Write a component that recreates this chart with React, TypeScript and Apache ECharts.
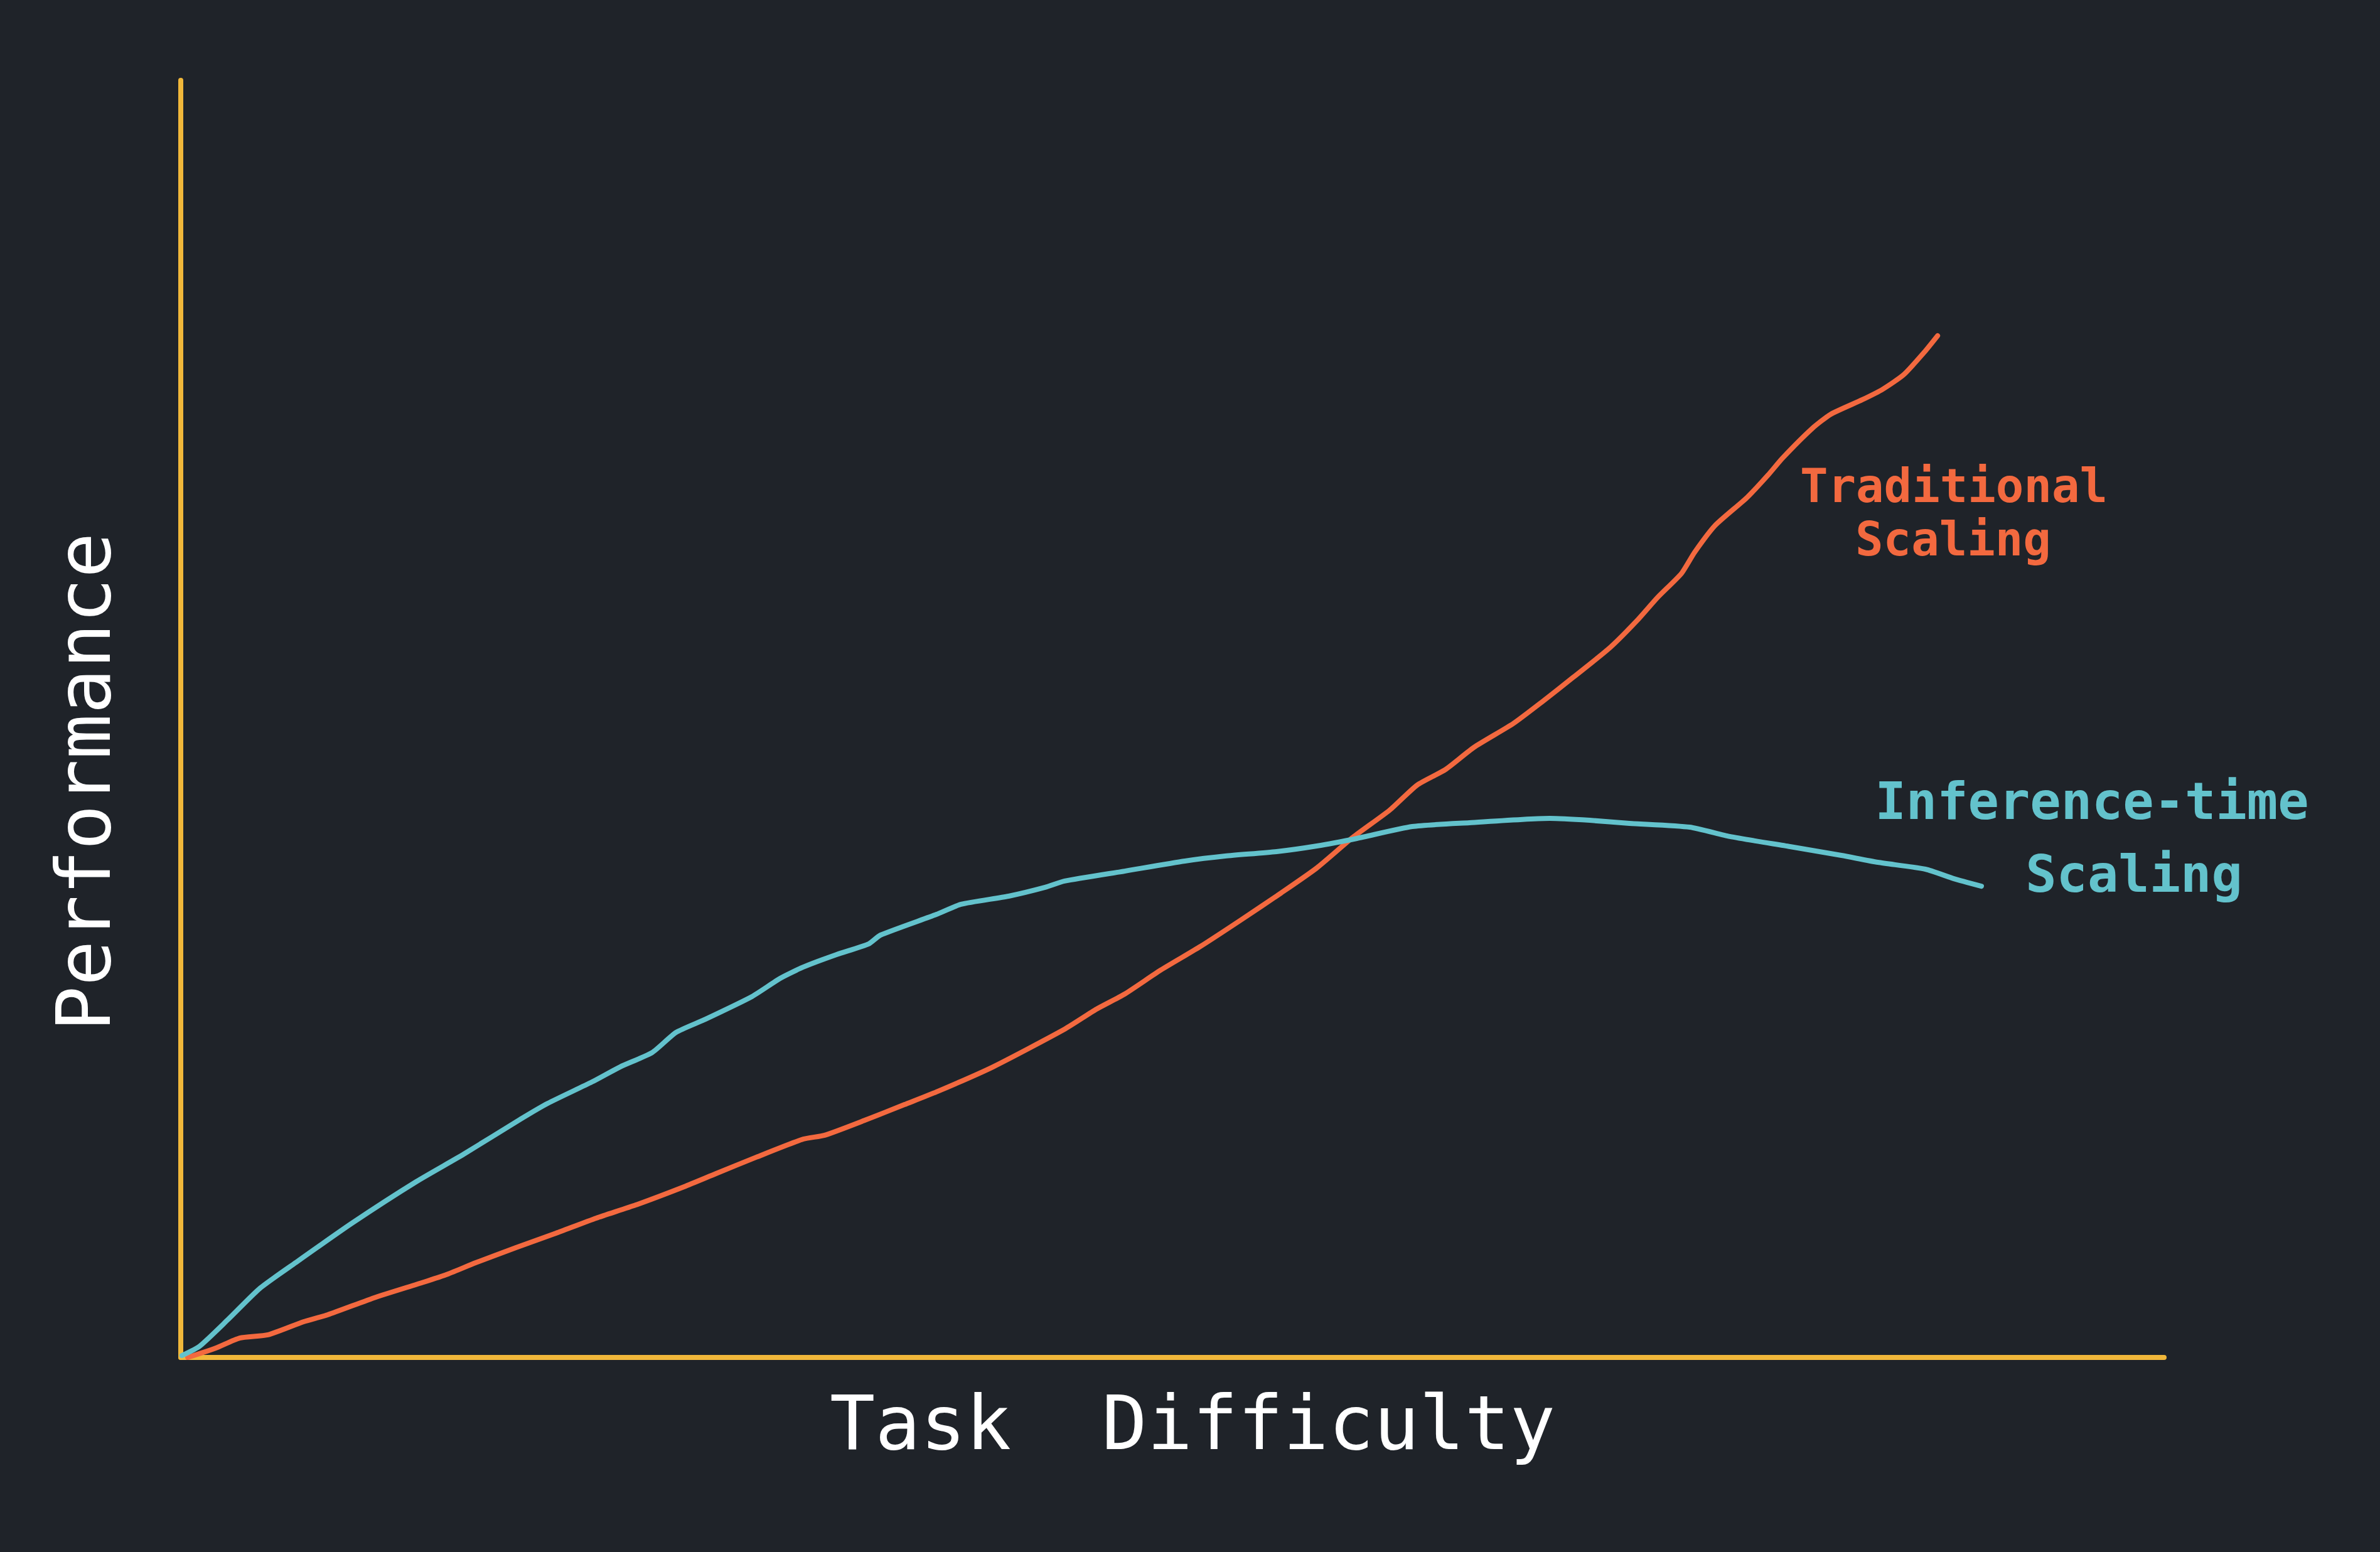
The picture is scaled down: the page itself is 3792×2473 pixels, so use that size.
import React, { useEffect, useRef } from "react";
import * as echarts from "echarts";

// Task difficulty (x) vs performance (y), arbitrary 0–100 units
const traditionalX = [0.35, 1.77, 2.97, 4.4, 6.2, 7.41, 9.84, 12.25, 13.48, 14.87, 16.9, 18.92, 20.95, 22.94, 25.38, 26.99, 29.02, 31.39, 32.47, 34.49, 36.49, 38.1, 40.95, 44.56, 46.17, 47.59, 49.4, 51.42, 53.45, 55.47, 57.28, 59.11, 60.95, 62.34, 63.77, 65.19, 67.18, 68.61, 70.22, 72.06, 73.45, 74.46, 75.66, 76.33, 77.37, 78.96, 80.03, 80.76, 82.25, 83.2, 84.78, 85.82, 86.87, 87.94, 88.58];
const traditionalY = [0, 0.74, 1.52, 1.77, 2.8, 3.34, 4.72, 5.9, 6.54, 7.42, 8.6, 9.73, 10.91, 11.94, 13.37, 14.4, 15.68, 17.1, 17.4, 18.57, 19.8, 20.79, 22.75, 25.7, 27.27, 28.45, 30.32, 32.19, 34.25, 36.36, 38.33, 40.74, 42.85, 44.82, 46.04, 47.76, 49.63, 51.3, 53.27, 55.58, 57.74, 59.51, 61.38, 63.05, 65.16, 67.32, 69.09, 70.42, 72.73, 73.86, 74.99, 75.82, 76.95, 78.77, 80.0];

const inferenceX = [0.06, 0.95, 2.37, 3.99, 5.79, 8.64, 11.87, 14.27, 17.09, 18.51, 20.73, 22.15, 23.77, 24.97, 26.39, 28.8, 30.22, 31.39, 33.07, 34.68, 35.28, 38.1, 39.34, 41.74, 43.58, 44.56, 47.59, 50.63, 52.66, 55.25, 57.28, 59.3, 62.09, 64.97, 69.02, 71.04, 73.04, 76.08, 78.1, 81.14, 83.73, 85.57, 87.97, 89.4, 90.79];
const inferenceY = [0.15, 0.88, 2.95, 5.41, 7.42, 10.52, 13.76, 15.92, 18.62, 19.9, 21.57, 22.75, 23.88, 25.45, 26.44, 28.26, 29.68, 30.57, 31.55, 32.38, 33.07, 34.69, 35.48, 36.12, 36.81, 37.3, 38.08, 38.87, 39.26, 39.61, 40.05, 40.64, 41.57, 41.87, 42.21, 42.06, 41.82, 41.52, 40.79, 40.0, 39.31, 38.77, 38.23, 37.49, 36.9];

const xAxisTitle = "Task  Difficulty";
const yAxisTitle = "Performance";
const traditionalLabel = ["Traditional", "Scaling"];
const inferenceLabel = ["Inference-time", "Scaling"];

const BG = "#1f2329";
const AXIS = "#f0b73a";
const ORANGE = "#f3693f";
const CYAN = "#63c2cc";
const FONT = "'DejaVu Sans Mono', 'Liberation Mono', monospace";

export default function App() {
  const ref = useRef<HTMLDivElement>(null);
  useEffect(() => {
    if (!ref.current) return;
    const chart = echarts.init(ref.current, null, { renderer: "svg" });
    const pair = (xs: number[], ys: number[]) => xs.map((x, i) => [x, ys[i]]);
    const axisCommon = {
      type: "value" as const,
      min: 0,
      max: 100,
      axisLine: { show: true, lineStyle: { color: AXIS, width: 8, cap: "round" } },
      axisTick: { show: false },
      axisLabel: { show: false },
      splitLine: { show: false },
    };
    const text = (
      t: string,
      x: number,
      y: number,
      size: number,
      color: string,
      rot = 0,
      weight = "normal"
    ) => ({
      type: "text",
      x,
      y,
      rotation: rot,
      style: {
        text: t,
        fill: color,
        font: `${weight} ${size}px ${FONT}`,
        align: "center",
        verticalAlign: "middle",
      },
    });
    chart.setOption({
      animation: false,
      backgroundColor: BG,
      grid: { left: 288, right: 344, top: 128, bottom: 310, containLabel: false },
      xAxis: { ...axisCommon },
      yAxis: { ...axisCommon },
      series: [
        {
          name: "Traditional Scaling",
          type: "line",
          data: pair(traditionalX, traditionalY),
          showSymbol: false,
          smooth: 0.2,
          lineStyle: { color: ORANGE, width: 8, cap: "round", join: "round" },
          z: 3,
        },
        {
          name: "Inference-time Scaling",
          type: "line",
          data: pair(inferenceX, inferenceY),
          showSymbol: false,
          smooth: 0.2,
          lineStyle: { color: CYAN, width: 8, cap: "round", join: "round" },
          z: 4,
        },
      ],
      graphic: [
        text(xAxisTitle, 1900, 2267, 120, "#ffffff"),
        text(yAxisTitle, 133, 1246, 120, "#ffffff", Math.PI / 2),
        text(traditionalLabel[0], 3113, 774, 74, ORANGE, 0, "bold"),
        text(traditionalLabel[1], 3112, 859, 74, ORANGE, 0, "bold"),
        text(inferenceLabel[0], 3333, 1276, 82, CYAN, 0, "bold"),
        text(inferenceLabel[1], 3400, 1392, 82, CYAN, 0, "bold"),
      ],
    });
    return () => chart.dispose();
  }, []);
  return (
    <div
      ref={ref}
      style={{ position: "fixed", left: 0, top: 0, width: 3792, height: 2473, background: BG }}
    />
  );
}
